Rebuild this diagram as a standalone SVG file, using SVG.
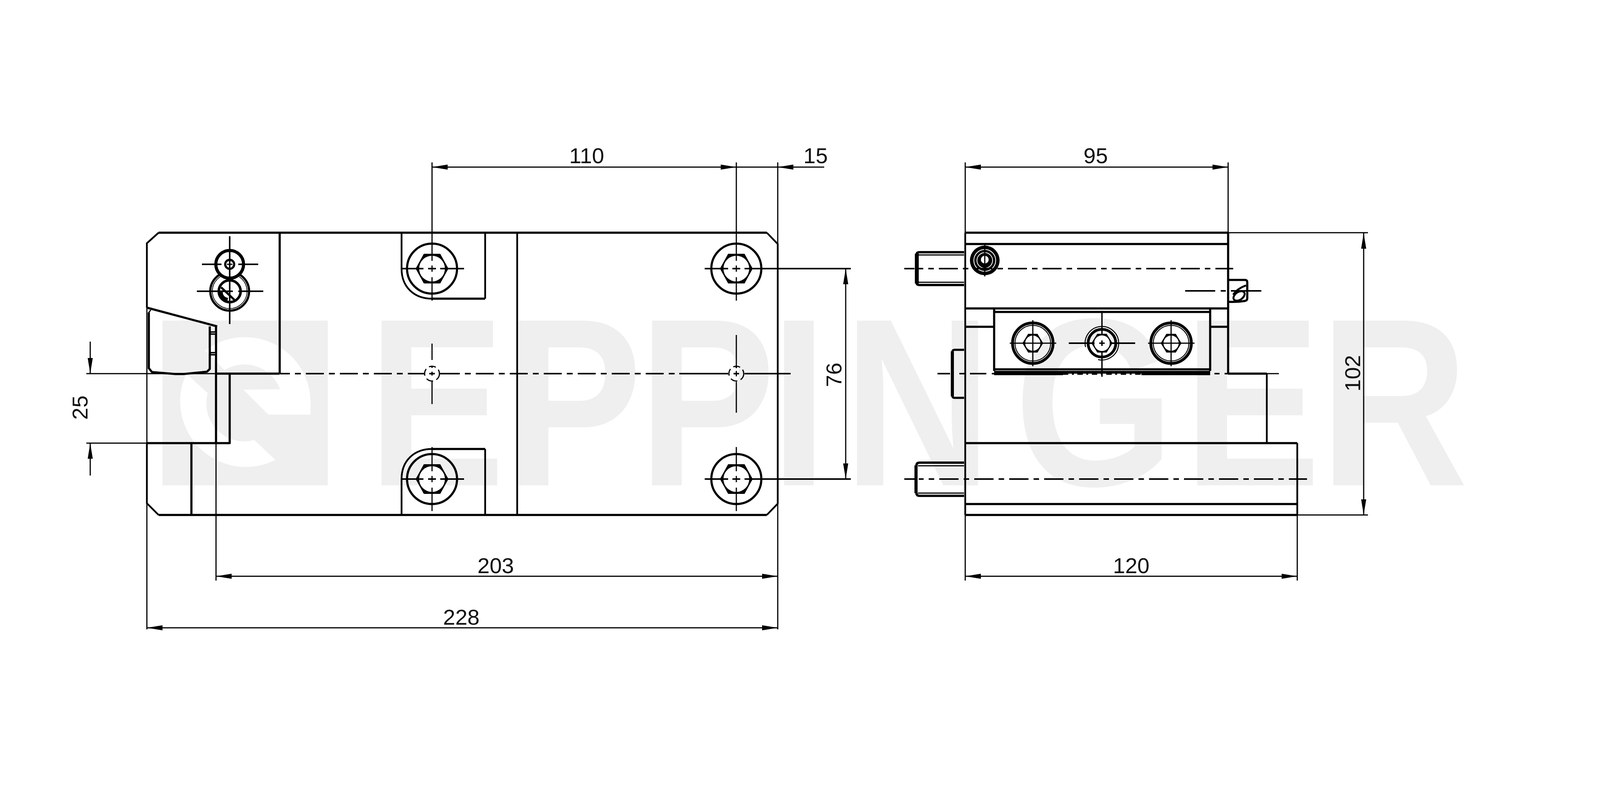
<svg xmlns="http://www.w3.org/2000/svg" xmlns:xlink="http://www.w3.org/1999/xlink" width="4134" height="2067" viewBox="0 0 4134 2067">
<style>
.h{stroke:#000;stroke-width:5.5;fill:none;stroke-linecap:butt;stroke-linejoin:round}
.v{stroke:#000;stroke-width:4.5;fill:none}
.t{stroke:#000;stroke-width:3;fill:none}
.c{stroke:#000;stroke-width:4;fill:none}
.w{fill:#fff;stroke:none}
.k{fill:#000;stroke:none}
.dim{stroke:#000;stroke-width:3;fill:none}
.label{font-family:"Liberation Sans",Arial,sans-serif;font-size:56px;fill:#111;text-anchor:middle}
.wm{font-family:"Liberation Sans",Arial,sans-serif;font-weight:700;font-size:613px;fill:#efefef}
</style>
<defs>
<marker id="arrow" markerUnits="userSpaceOnUse" markerWidth="42" markerHeight="14" refX="40" refY="7" orient="auto-start-reverse"><path d="M0 0.5L40 7L0 13.5Z" fill="#000"/></marker>
<g id="hexBig"><circle r="64" class="h"/><polygon class="k" points="-42,0 -21,-38 21,-38 42,0 21,38 -21,38"/><circle r="33" class="w"/></g>
<g id="panelScrew"><circle r="50" stroke="#000" stroke-width="11" fill="none"/><circle r="47.5" stroke="#fff" stroke-width="1.5" fill="none"/><polygon class="k" points="-26.5,0 -12,-24 12,-24 26.5,0 12,24 -12,24"/><circle r="19.5" class="w"/><path class="t" d="M0 -59V59M-59 0H60"/></g>
</defs>
<rect width="4134" height="2067" fill="#fff"/>
<g id="watermark">
<rect x="416" y="821" width="423" height="422" fill="#efefef"/>
<path class="w" d="M705 1178A168 168 0 0 1 477 957L532 1007A97 97 0 0 0 651 1127Z"/>
<path class="w" d="M525 898A168 168 0 0 1 795 1032L795 1062L687 1062L623 998L717 997A97 97 0 0 0 575 948Z"/>
<text class="wm" transform="scale(0.86,1)" y="1243" x="1095 1503 1900 2293 2510 3019 3523 3928">EPPINGER</text>
</g>

<g id="left-body">
<path class="h" d="M406 596H1963"/>
<path class="v" d="M406 596L376 623V788"/>
<path class="v" d="M1963 596L1991 625V1290L1963 1319"/>
<path class="h" d="M406 1319H1963"/>
<path class="v" d="M376 1135V1289L406 1319"/>
<path class="t" d="M376 788V1135"/>
<path class="h" d="M716 596V957"/>
<path class="h" d="M553 957H716"/>
<path class="h" d="M376 1135H588V957"/>
<path class="h" d="M490 1135V1319"/>
<path class="v" d="M1324 596V1319"/>
<path class="h" d="M376 788L556 836"/>
<path class="h" d="M553 836V1135"/>
<path class="h" d="M381 800V943L389 953L449 958L470 958L530 952L537 945V836"/>
<path class="t" d="M381 800L386 794"/>
<path class="h" d="M537 853H553M537 906H553" style="stroke-width:9"/>
<path stroke="#fff" stroke-width="1.5" d="M540 853H551M540 906H551"/>
</g>

<g id="bracket-top"><path class="v" d="M1028 596V688C1028 735 1060 765 1106 765"/><path class="h" d="M1106 765H1242"/><path class="v" d="M1242 596V765"/></g>
<g id="bracket-bottom"><path class="v" d="M1028 1319V1227C1028 1180 1060 1150 1106 1150"/><path class="h" d="M1106 1150H1242"/><path class="v" d="M1242 1150V1319"/></g>

<g id="screw-a"><use xlink:href="#hexBig" href="#hexBig" x="1106" y="688"/></g>
<g id="screw-b"><use xlink:href="#hexBig" href="#hexBig" x="1885" y="688"/></g>
<g id="screw-c"><use xlink:href="#hexBig" href="#hexBig" x="1106" y="1227"/></g>
<g id="screw-d"><use xlink:href="#hexBig" href="#hexBig" x="1885" y="1227"/></g>

<g id="clamp-screws">
<circle cx="588" cy="746" r="48" stroke="#000" stroke-width="9" fill="#fff"/>
<circle cx="588" cy="746" r="46" stroke="#fff" stroke-width="1.5" fill="none"/>
<circle cx="588" cy="746" r="28" stroke="#000" stroke-width="6.5" fill="none"/>
<path class="h" d="M566 736L600 768"/>
<path d="M566 746Q566 764 583 767" stroke="#000" stroke-width="8" fill="none"/>
<circle cx="588" cy="677" r="35.5" stroke="#000" stroke-width="8" fill="#fff"/>
<circle cx="588" cy="677" r="11.5" stroke="#000" stroke-width="5.5" fill="none"/>
<path class="c" d="M517 677H567M610 677H661M504 746H596M610 746H674"/>
<path class="c" d="M588 605V700M588 698V830"/>
<path class="t" d="M581 677H595"/>
</g>

<g id="holes">
<circle cx="1106" cy="957" r="19" class="t" stroke-dasharray="18 9"/>
<circle cx="1885" cy="957" r="19" class="t" stroke-dasharray="18 9"/>
</g>

<g id="right-body">
<path class="h" d="M2471 596H3144M2471 625H3144M2471 790H3144M2545 799H3096"/>
<path class="v" d="M2471 596V1319"/>
<path class="h" d="M3144 596V957"/>
<path class="h" d="M2471 837H2545M3096 837H3144"/>
<path class="h" d="M2545 790V950M3098 790V950"/>
<path class="h" d="M2545 946H3098"/>
<rect class="k" x="2545" y="950" width="553" height="7"/>
<rect class="k" x="2545" y="957" width="176" height="4"/>
<rect class="k" x="2922" y="957" width="176" height="4"/>
<path class="h" d="M3144 957H3243"/>
<path class="v" d="M3243 957V1135"/>
<path class="h" d="M2470 1135H3321M2470 1291H3321M2470 1319H3321"/>
<path class="v" d="M3321 1135V1319"/>
</g>

<g id="bolt-top">
<path d="M2468 646H2354Q2346 646 2346 654V722Q2346 730 2354 730H2468" stroke="#000" stroke-width="6" fill="none"/>
<path d="M2347 650V726" stroke="#000" stroke-width="10"/>
<path class="t" d="M2350 653H2468M2350 723H2468"/>
</g>
<g id="bolt-bottom">
<path d="M2468 1185H2354Q2346 1185 2346 1193V1262Q2346 1270 2354 1270H2468" stroke="#000" stroke-width="6" fill="none"/>
<path d="M2345 1192V1263" stroke="#000" stroke-width="8"/>
<path class="t" d="M2350 1193H2468M2350 1263H2468"/>
</g>
<g id="stud"><path d="M2468 896H2444Q2438 896 2438 902V1013Q2438 1019 2444 1019H2468" class="h"/><path d="M2438 900V1015" stroke="#000" stroke-width="8"/></g>

<g id="side-screw">
<circle cx="2521" cy="667" r="38" class="k"/>
<circle cx="2521" cy="667" r="28" stroke="#fff" stroke-width="2" fill="none"/>
<circle cx="2521" cy="667" r="20" stroke="#fff" stroke-width="2" fill="none"/>
<circle cx="2521" cy="665" r="10" class="w"/>
<path class="t" d="M2521 627V708"/>
</g>

<g id="panel-screw-left"><use xlink:href="#panelScrew" href="#panelScrew" x="2644" y="879"/></g>
<g id="panel-screw-right"><use xlink:href="#panelScrew" href="#panelScrew" x="2998" y="879"/></g>
<g id="panel-screw-middle">
<path d="M2779 889A43 43 0 1 1 2811 921" stroke="#000" stroke-width="2.5" fill="none"/>
<circle cx="2821" cy="879" r="35.5" stroke="#000" stroke-width="7" fill="none"/>
<polygon class="k" points="2794,879 2809,855 2833,855 2848,879 2833,903 2809,903"/>
<circle cx="2821" cy="879" r="20" class="w"/>
<path class="t" d="M2821 796V856M2821 902V965M2814 879H2828M2821 872V886" style="stroke-width:3.5"/>
<path class="c" d="M2736 879H2802M2842 879H2906"/>
</g>

<g id="pin">
<path class="h" d="M3146 717H3187Q3193 717 3193 723V764Q3193 770 3186 771Q3165 774 3146 773"/>
<ellipse cx="3172" cy="758" rx="16" ry="10" transform="rotate(-35 3172 758)" stroke="#000" stroke-width="5" fill="#fff"/>
<path d="M3157 755Q3166 740 3190 731" stroke="#000" stroke-width="5" fill="none"/>
</g>

<g id="center-lines">
<path class="c" d="M3034 745H3111M3125 745H3138M3151 745H3229"/>
<path class="t" d="M221 957H553" />
<path class="c" d="M717 957H1072" stroke-dasharray="46 13 15 13" stroke-dashoffset="21"/>
<path class="c" d="M1072 957H1087M1099 957H1113M1126 957H1131"/>
<path class="c" d="M1131 957H1739" stroke-dasharray="46 13 15 13"/>
<path class="c" d="M1739 957H1864M1878 957H1892M1906 957H2024"/>
<path class="t" d="M1106 880V922M1106 952V962M1106 977V1035"/>
<path class="c" d="M1106 937V942M1885 939V943"/>
<path class="t" d="M1885 858V937M1885 950V964M1885 978V1057"/>
<path class="c" d="M2315 688H2341"/>
<path class="c" d="M2352 688H3157" stroke-dasharray="48.5 13 14 13" stroke-dashoffset="37"/>
<path class="c" d="M2315 1227H2341"/>
<path class="c" d="M2352 1227H3346" stroke-dasharray="49.5 13 14 13" stroke-dashoffset="37"/>
<path class="c" d="M2400 957H2432M2456 957H2471M2483 957H2525M2539 957H2545"/>
<path class="c" d="M2721 958.500H2922" stroke-dasharray="14 9 5 9" style="stroke-width:3"/>
<path class="c" d="M3109 957H3122M3135 957H3144"/>
<path class="t" d="M3243 957H3274"/>
<path class="c" d="M1028 688H1084M1096 688H1116M1127 688H1188"/>
<path class="c" d="M1028 1227H1084M1096 1227H1116M1127 1227H1188"/>
<path class="c" d="M1804 688H1864M1875 688H1895M1906 688H2178"/>
<path class="c" d="M1804 1227H1864M1875 1227H1895M1906 1227H2178"/>
<path class="t" d="M1106 416V668M1106 680V696M1106 710V770"/>
<path class="t" d="M1885 416V668M1885 680V696M1885 710V770"/>
<path class="t" d="M1106 1145V1207M1106 1219V1235M1106 1249V1309"/>
<path class="t" d="M1885 1145V1207M1885 1219V1235M1885 1249V1309"/>
</g>

<g id="connectors">
<path class="dim" d="M1991 625V416M2471 596V416M3144 596V416"/>
<path class="dim" d="M376 1289V1612M553 1135V1487M1991 1290V1612M2471 1319V1487M3321 1319V1487"/>
<path class="dim" d="M3144 596H3502M3321 1319H3502"/>
<path class="dim" d="M221 1135H376"/>
<line class="dim" x1="1106" y1="428" x2="1885" y2="428" marker-start="url(#arrow)" marker-end="url(#arrow)"/>
<line class="dim" x1="1885" y1="428" x2="1991" y2="428"/>
<line class="dim" x1="2110" y1="428" x2="1991" y2="428" marker-end="url(#arrow)"/>
<line class="dim" x1="2471" y1="428" x2="3144" y2="428" marker-start="url(#arrow)" marker-end="url(#arrow)"/>
<line class="dim" x1="553" y1="1476" x2="1991" y2="1476" marker-start="url(#arrow)" marker-end="url(#arrow)"/>
<line class="dim" x1="2471" y1="1476" x2="3321" y2="1476" marker-start="url(#arrow)" marker-end="url(#arrow)"/>
<line class="dim" x1="376" y1="1608" x2="1991" y2="1608" marker-start="url(#arrow)" marker-end="url(#arrow)"/>
<line class="dim" x1="2165" y1="688" x2="2165" y2="1227" marker-start="url(#arrow)" marker-end="url(#arrow)"/>
<line class="dim" x1="3491" y1="597" x2="3491" y2="1319" marker-start="url(#arrow)" marker-end="url(#arrow)"/>
<line class="dim" x1="231" y1="875" x2="231" y2="957" marker-end="url(#arrow)"/>
<line class="dim" x1="231" y1="1218" x2="231" y2="1135" marker-end="url(#arrow)"/>
</g>

<g id="labels">
<text class="label" x="1502" y="418">110</text>
<text class="label" x="2088" y="418">15</text>
<text class="label" x="2805" y="418">95</text>
<text class="label" x="1269" y="1468">203</text>
<text class="label" x="2896" y="1468">120</text>
<text class="label" x="1181" y="1600">228</text>
<text class="label" transform="translate(224 1044) rotate(-90)">25</text>
<text class="label" transform="translate(2154 960) rotate(-90)">76</text>
<text class="label" transform="translate(3482 956) rotate(-90)">102</text>
</g>
</svg>
